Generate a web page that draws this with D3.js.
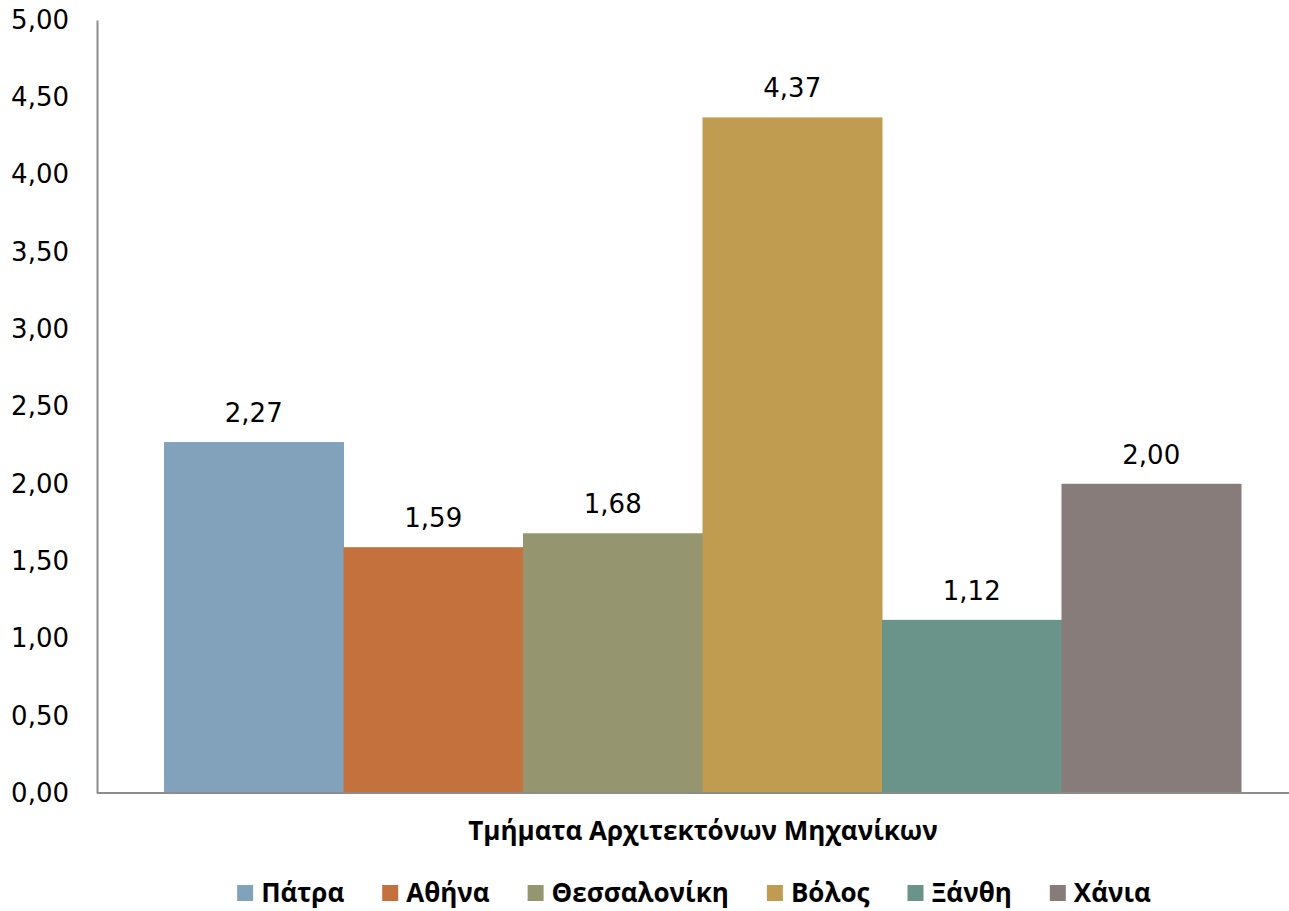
<!DOCTYPE html>
<html>
<head>
<meta charset="utf-8">
<script src="https://cdnjs.cloudflare.com/ajax/libs/d3/7.8.5/d3.min.js"></script>
<style>
  body { margin: 0; background: #fff; }
  .tick text, .val { font-family: "DejaVu Sans", sans-serif; font-size: 26px; fill: #000; }
  .bold { font-family: "Open Sans", sans-serif; font-weight: bold; fill: #000; }
</style>
</head>
<body>
<script>
// data
var cities = ["Πάτρα", "Αθήνα", "Θεσσαλονίκη", "Βόλος", "Ξάνθη", "Χάνια"];
var values = [2.27, 1.59, 1.68, 4.37, 1.12, 2.00];
var colors = ["#82a2bb", "#c5713d", "#959670", "#c09c50", "#6a9389", "#877c7a"];
var yTicks = [0, 0.5, 1, 1.5, 2, 2.5, 3, 3.5, 4, 4.5, 5];
var groupName = "Τμήματα Αρχιτεκτόνων Μηχανίκων";

var W = 1289, H = 911;
var margin = { top: 20, left: 97, bottom: 118 },
  plotRight = 1308,
  height = H - margin.top - margin.bottom;

var svg = d3.select("body").append("svg")
  .attr("width", W)
  .attr("height", H);

var g = svg.append("g")
  .attr("transform", "translate(" + margin.left + "," + margin.top + ")");

var width = plotRight - margin.left;

// one category, six series side by side
var x0 = d3.scaleBand().domain([groupName]).range([0, width]).paddingInner(0).paddingOuter(0.0622);
var x1 = d3.scaleBand().domain(cities).range([0, x0.bandwidth()]).padding(0);
var y = d3.scaleLinear().domain([0, 5]).range([height, 0]);

var fmt = function(v) { return d3.format(".2f")(v).replace(".", ","); };

// y axis
var yAxis = d3.axisLeft(y).tickValues(yTicks).tickSize(0).tickPadding(28).tickFormat(fmt);
var ya = g.append("g").call(yAxis);
ya.select(".domain").attr("stroke", "#8c8c8c").attr("stroke-width", 2);

// bars
g.append("g").selectAll("rect")
  .data(values)
  .enter().append("rect")
  .attr("x", function(d, i) { return x0(groupName) + x1(cities[i]); })
  .attr("y", function(d) { return y(d); })
  .attr("width", x1.bandwidth() + 0.5)
  .attr("height", function(d) { return height - y(d); })
  .attr("fill", function(d, i) { return colors[i]; });

// value labels
g.append("g").selectAll("text")
  .data(values)
  .enter().append("text")
  .attr("class", "val")
  .attr("text-anchor", "middle")
  .attr("x", function(d, i) { return x0(groupName) + x1(cities[i]) + x1.bandwidth() / 2; })
  .attr("y", function(d) { return y(d) - 20; })
  .text(fmt);

// x axis baseline
g.append("line")
  .attr("x1", 0).attr("x2", width)
  .attr("y1", height).attr("y2", height)
  .attr("stroke", "#8c8c8c").attr("stroke-width", 2);

// category label
svg.append("text")
  .attr("class", "bold")
  .attr("x", 703).attr("y", 840)
  .attr("text-anchor", "middle")
  .style("font-size", "26px")
  .text(groupName);

// legend, centered
var legend = svg.append("g");
var lx = 0, gap = 38;
cities.forEach(function(c, i) {
  var it = legend.append("g").attr("transform", "translate(" + lx + ",0)");
  it.append("rect").attr("x", 0).attr("y", -17).attr("width", 16).attr("height", 16).attr("fill", colors[i]);
  var t = it.append("text").attr("class", "bold").attr("x", 24).attr("y", 0)
    .style("font-size", "26px").text(c);
  lx += 24 + t.node().getComputedTextLength() + gap;
});
lx -= gap;
legend.attr("transform", "translate(" + (694 - lx / 2) + ",902)");
</script>
</body>
</html>
